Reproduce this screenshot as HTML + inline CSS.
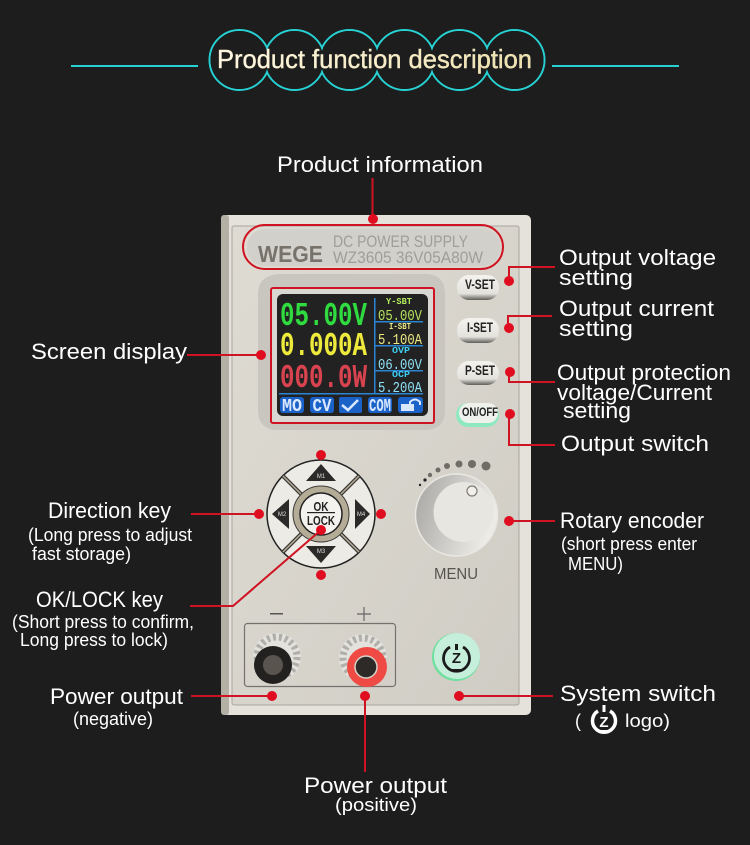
<!DOCTYPE html>
<html><head><meta charset="utf-8"><style>
html,body{margin:0;padding:0;background:#1d1d1d}
svg{display:block}
text{font-family:"Liberation Sans",sans-serif}
.l{fill:#fff;font-size:22.5px}
.s{fill:#fff;font-size:18px}
.m{font-family:"Liberation Mono",monospace;font-weight:bold}
.k{font-family:"Liberation Mono",monospace}
.b{fill:#222;font-size:14px;font-weight:bold;text-anchor:middle}
.r{fill:none;stroke:#cf1322;stroke-width:2}
.d{fill:#e00d20}
.t{fill:#d9e8ff;font-size:18px;font-weight:bold;font-family:"Liberation Mono",monospace;text-anchor:middle}
</style></head><body>
<svg width="750" height="845" viewBox="0 0 750 845" xmlns="http://www.w3.org/2000/svg">
<defs>
<linearGradient id="ti" x1="0" x2="1" y1="0" y2="0"><stop offset="0" stop-color="#fff8e8"/><stop offset="1" stop-color="#eee0a8"/></linearGradient>
<linearGradient id="pn" x1="0" x2="1" y1="0" y2="1"><stop offset="0" stop-color="#dedbd2"/><stop offset=".6" stop-color="#d6d3cb"/><stop offset="1" stop-color="#cfccc4"/></linearGradient>
<linearGradient id="btn" x1="0" x2="0" y1="0" y2="1"><stop offset="0" stop-color="#f4f3ef"/><stop offset=".75" stop-color="#e3e2dd"/><stop offset="1" stop-color="#5f5d58"/></linearGradient>
<linearGradient id="kb" x1="0" x2="1" y1="0" y2=".3"><stop offset="0" stop-color="#a5a4a0"/><stop offset=".5" stop-color="#c9c8c4"/><stop offset="1" stop-color="#ecebe6"/></linearGradient>
</defs>
<rect width="750" height="845" fill="#1d1d1d"/>

<!-- title -->
<g fill="none" stroke="#27d0d2" stroke-width="2">
<circle cx="239.500" cy="60" r="30"/><circle cx="294.500" cy="60" r="30"/><circle cx="349.500" cy="60" r="30"/><circle cx="404.500" cy="60" r="30"/><circle cx="459.500" cy="60" r="30"/><circle cx="514.500" cy="60" r="30"/>
</g>
<g fill="#1d1d1d">
<circle cx="239.500" cy="60" r="29"/><circle cx="294.500" cy="60" r="29"/><circle cx="349.500" cy="60" r="29"/><circle cx="404.500" cy="60" r="29"/><circle cx="459.500" cy="60" r="29"/><circle cx="514.500" cy="60" r="29"/>
</g>
<rect x="71" y="65" width="127" height="2" fill="#27d0d2"/>
<rect x="552" y="65" width="127" height="2" fill="#27d0d2"/>
<text x="217" y="68" font-size="26" fill="url(#ti)" textLength="315" lengthAdjust="spacingAndGlyphs" style="stroke:#f5ecc8;stroke-width:.4">Product function description</text>

<!-- panel -->
<rect x="221" y="215" width="310" height="500" rx="5" fill="#e4e2db"/>
<rect x="221" y="215" width="8" height="500" rx="3" fill="#b4b0a6"/>
<rect x="232" y="226" width="287" height="479" rx="2" fill="url(#pn)" stroke="#a9a69e"/>
<rect x="247" y="229" width="253" height="37" rx="18" fill="#d2d0ca"/>
<text x="258" y="262" font-size="23" font-weight="bold" fill="#77736a" textLength="65" lengthAdjust="spacingAndGlyphs">WEGE</text>
<text x="333" y="247" font-size="16.500" fill="#a09e98" textLength="135" lengthAdjust="spacingAndGlyphs">DC POWER SUPPLY</text>
<text x="333" y="263" font-size="16.500" fill="#a09e98" textLength="150" lengthAdjust="spacingAndGlyphs">WZ3605  36V05A80W</text>

<!-- screen -->
<path d="M278 274H428Q445 276 445 294V410Q445 430 425 430H278Q258 430 258 410V294Q258 276 278 274Z" fill="#c9c6bf"/>
<rect x="271" y="288" width="163" height="135" fill="#d9d7d1"/>
<rect x="277" y="294" width="151" height="122" rx="6" fill="#222"/>
<text x="280" y="325" class="m" font-size="33" fill="#2fdb3f" textLength="87" lengthAdjust="spacingAndGlyphs">05.00V</text>
<text x="280" y="355" class="m" font-size="33" fill="#eeea3c" textLength="87" lengthAdjust="spacingAndGlyphs">0.000A</text>
<text x="280" y="387" class="m" font-size="33" fill="#d9434f" textLength="87" lengthAdjust="spacingAndGlyphs">000.0W</text>
<g fill="#2a86d4">
<rect x="374" y="298" width="1.500" height="95"/>
<rect x="375" y="321" width="48" height="1.500"/>
<rect x="375" y="345" width="48" height="1.500"/>
<rect x="375" y="370" width="48" height="1.500"/>
<rect x="279" y="393" width="144" height="1.500"/>
</g>
<text x="386" y="304" class="m" font-size="9" fill="#b4ea5c" textLength="26" lengthAdjust="spacingAndGlyphs">Y-SBT</text>
<text x="389" y="329" class="m" font-size="9" fill="#ece983" textLength="22" lengthAdjust="spacingAndGlyphs">I-SBT</text>
<text x="392" y="353" class="m" font-size="9" fill="#3dcdf2" textLength="18" lengthAdjust="spacingAndGlyphs">OVP</text>
<text x="392" y="377" class="m" font-size="9" fill="#3dcdf2" textLength="18" lengthAdjust="spacingAndGlyphs">OCP</text>
<text x="378" y="320" class="k" font-size="15" fill="#b7e35e" textLength="44" lengthAdjust="spacingAndGlyphs">05.00V</text>
<text x="378" y="344" class="k" font-size="15" fill="#ece983" textLength="44" lengthAdjust="spacingAndGlyphs">5.100A</text>
<text x="378" y="369" class="k" font-size="15" fill="#8fe2f7" textLength="44" lengthAdjust="spacingAndGlyphs">06.00V</text>
<text x="378" y="392" class="k" font-size="15" fill="#8fe2f7" textLength="44" lengthAdjust="spacingAndGlyphs">5.200A</text>
<g fill="#1b62c8">
<rect x="280" y="397" width="24" height="16" rx="3"/>
<rect x="310" y="397" width="24" height="16" rx="3"/>
<rect x="339" y="397" width="23" height="16" rx="2"/>
<rect x="368" y="397" width="24" height="16" rx="3"/>
<rect x="398" y="397" width="25" height="16" rx="3"/>
</g>
<text x="292" y="411" class="t" textLength="20" lengthAdjust="spacingAndGlyphs">MO</text>
<text x="322" y="411" class="t" textLength="19" lengthAdjust="spacingAndGlyphs">CV</text>
<text x="380" y="411" class="t" textLength="22" lengthAdjust="spacingAndGlyphs">COM</text>
<path d="M342 405L348 410L358 400" fill="none" stroke="#d9e8ff" stroke-width="2.500"/>
<rect x="401" y="404" width="13" height="7" fill="#d9e8ff"/>
<path d="M410 404V402Q415 397 420 402V405" fill="none" stroke="#d9e8ff" stroke-width="2"/>

<!-- buttons -->
<rect x="457" y="275" width="42" height="25" rx="12" fill="url(#btn)"/>
<rect x="457" y="318" width="42" height="25" rx="12" fill="url(#btn)"/>
<rect x="457" y="361" width="42" height="24" rx="12" fill="url(#btn)"/>
<rect x="456" y="403" width="43" height="24" rx="12" fill="#8fe9c0"/>
<rect x="459" y="403" width="39" height="20" rx="10" fill="#eef1ec"/>
<text x="480" y="289" class="b" textLength="30" lengthAdjust="spacingAndGlyphs">V-SET</text>
<text x="480" y="332" class="b" textLength="26" lengthAdjust="spacingAndGlyphs">I-SET</text>
<text x="480" y="375" class="b" textLength="30" lengthAdjust="spacingAndGlyphs">P-SET</text>
<text x="480" y="416" class="b" textLength="36" lengthAdjust="spacingAndGlyphs" style="font-size:12px">ON/OFF</text>

<!-- d-pad -->
<circle cx="321" cy="514" r="54" fill="#ecebe6" stroke="#222" stroke-width="1.500"/>
<path d="M283 476L359 552M359 476L283 552" stroke="#3b3a36" stroke-width="4"/>
<path d="M283 476L359 552M359 476L283 552" stroke="#b5ac97" stroke-width="1.500"/>
<circle cx="321" cy="514" r="28" fill="#b5ac97" stroke="#3b3a36" stroke-width="1"/>
<circle cx="321" cy="514" r="21" fill="#f3f2ee" stroke="#222" stroke-width="1.500"/>
<text x="321" y="511" text-anchor="middle" font-size="13" font-weight="bold" fill="#222" textLength="15" lengthAdjust="spacingAndGlyphs">OK</text>
<rect x="307" y="512" width="28" height="1.200" fill="#222"/>
<text x="321" y="525" text-anchor="middle" font-size="13" font-weight="bold" fill="#222" textLength="28" lengthAdjust="spacingAndGlyphs">LOCK</text>
<g fill="#2b2a28">
<path d="M321 464L336 481H306Z"/><path d="M321 563L336 546H306Z"/>
<path d="M272 514L289 499V529Z"/><path d="M370 514L355 499V529Z"/>
</g>
<g fill="#ddd" font-size="6" text-anchor="middle">
<text x="321" y="478">M1</text><text x="321" y="553">M3</text><text x="282" y="516">M2</text><text x="361" y="516">M4</text>
</g>

<!-- knob -->
<g fill="#6f6d66">
<circle cx="486" cy="466" r="4.500"/><circle cx="472" cy="464" r="4"/><circle cx="459" cy="464" r="3.500"/><circle cx="447" cy="466" r="3"/><circle cx="438" cy="470" r="2.500"/><circle cx="430" cy="475" r="2.200"/><circle cx="425" cy="480" r="1.600" fill="#222"/><circle cx="420" cy="485" r="1.200" fill="#222"/>
</g>
<circle cx="456.500" cy="515" r="41" fill="url(#kb)" stroke="#e8e7e2" stroke-width="1.500"/>
<circle cx="463.500" cy="512" r="30" fill="#e8e6e1"/>
<circle cx="472" cy="491" r="5" fill="#f1efe9" stroke="#7f7c74" stroke-width="1.200"/>
<text x="434" y="579" font-size="16" fill="#55544f" textLength="44" lengthAdjust="spacingAndGlyphs">MENU</text>

<!-- terminals -->
<rect x="270" y="613" width="13" height="1.500" fill="#555"/>
<path d="M364 607V621M357 614H371" stroke="#666" stroke-width="1.200"/>
<rect x="244.500" y="623.500" width="151" height="63" rx="3" fill="none" stroke="#74726c" stroke-width="1.200"/>
<circle cx="277" cy="657" r="24" fill="#e3e2dd"/>
<circle cx="277" cy="657" r="20" fill="none" stroke="#b0afaa" stroke-width="7" stroke-dasharray="3 3"/>
<circle cx="273" cy="665" r="19" fill="#22211f"/>
<circle cx="273" cy="665" r="10" fill="#59554e"/>
<circle cx="363" cy="658" r="24" fill="#e3e2dd"/>
<circle cx="363" cy="658" r="20" fill="none" stroke="#b0afaa" stroke-width="7" stroke-dasharray="3 3"/>
<circle cx="367" cy="667" r="20" fill="#ef4a44"/>
<circle cx="366" cy="667" r="11" fill="#2d2a27" stroke="#d6d2c8" stroke-width="1.500"/>

<!-- power button -->
<circle cx="456" cy="657" r="24" fill="#6fdf9e"/>
<circle cx="457" cy="656" r="23" fill="#c6efdb"/>
<path d="M450 647A13 13 0 1 0 463 647" fill="none" stroke="#1b1b1b" stroke-width="2.800"/>
<rect x="455" y="644" width="3" height="6" fill="#1b1b1b"/>
<rect x="452" y="669" width="9" height="3" fill="#1b1b1b"/>
<text x="456.500" y="663" text-anchor="middle" font-size="15" font-weight="bold" fill="#1b1b1b">Z</text>

<!-- red annotations -->
<rect x="243" y="225" width="260" height="44" rx="22" class="r"/>
<rect x="271" y="288" width="163" height="135" rx="2" class="r"/>
<path class="r" d="M372.500 178V219M187 355H261M509 281V267H555M508 328V316H552M509 372V382H555M509 414V445H555M509 521H555M191 514H259M321 530L233 606H190M191 696H272M365 696V772M459 696H553"/>
<g class="d">
<circle cx="373" cy="219" r="5"/><circle cx="261" cy="355" r="5"/><circle cx="509" cy="281" r="5"/><circle cx="509" cy="328" r="5"/><circle cx="510" cy="372" r="5"/><circle cx="510" cy="414" r="5"/><circle cx="509" cy="521" r="5"/>
<circle cx="321" cy="455" r="5"/><circle cx="259" cy="514" r="5"/><circle cx="381" cy="514" r="5"/><circle cx="321" cy="575" r="5"/><circle cx="321" cy="530" r="5"/>
<circle cx="272" cy="696" r="5"/><circle cx="365" cy="696" r="5"/><circle cx="459" cy="696" r="5"/>
</g>

<!-- labels -->
<text class="l" x="277" y="172" textLength="206" lengthAdjust="spacingAndGlyphs">Product information</text>
<text class="l" x="559" y="265" textLength="157" lengthAdjust="spacingAndGlyphs">Output voltage</text>
<text class="l" x="559" y="285" textLength="74" lengthAdjust="spacingAndGlyphs">setting</text>
<text class="l" x="559" y="316" textLength="155" lengthAdjust="spacingAndGlyphs">Output current</text>
<text class="l" x="559" y="336" textLength="74" lengthAdjust="spacingAndGlyphs">setting</text>
<text class="l" x="557" y="380" textLength="174" lengthAdjust="spacingAndGlyphs">Output protection</text>
<text class="l" x="557" y="400" textLength="155" lengthAdjust="spacingAndGlyphs">voltage/Current</text>
<text class="l" x="563" y="418" textLength="68" lengthAdjust="spacingAndGlyphs">setting</text>
<text class="l" x="561" y="451" textLength="148" lengthAdjust="spacingAndGlyphs">Output switch</text>
<text class="l" x="560" y="528" textLength="144" lengthAdjust="spacingAndGlyphs">Rotary encoder</text>
<text class="s" x="561" y="550" textLength="136" lengthAdjust="spacingAndGlyphs">(short press enter</text>
<text class="s" x="568" y="570" textLength="55" lengthAdjust="spacingAndGlyphs">MENU)</text>
<text class="l" x="560" y="701" textLength="156" lengthAdjust="spacingAndGlyphs">System switch</text>
<text class="s" x="575" y="727">(</text>
<text class="s" x="625" y="727" textLength="45" lengthAdjust="spacingAndGlyphs">logo)</text>
<text class="l" x="304" y="793" textLength="143" lengthAdjust="spacingAndGlyphs">Power output</text>
<text class="s" x="335" y="811" textLength="82" lengthAdjust="spacingAndGlyphs">(positive)</text>
<text class="l" x="31" y="359" textLength="156" lengthAdjust="spacingAndGlyphs">Screen display</text>
<text class="l" x="48" y="518" textLength="123" lengthAdjust="spacingAndGlyphs">Direction key</text>
<text class="s" x="28" y="541" textLength="164" lengthAdjust="spacingAndGlyphs">(Long press to adjust</text>
<text class="s" x="32" y="560" textLength="99" lengthAdjust="spacingAndGlyphs">fast storage)</text>
<text class="l" x="36" y="607" textLength="127" lengthAdjust="spacingAndGlyphs">OK/LOCK key</text>
<text class="s" x="12" y="628" textLength="182" lengthAdjust="spacingAndGlyphs">(Short press to confirm,</text>
<text class="s" x="20" y="646" textLength="148" lengthAdjust="spacingAndGlyphs">Long press to lock)</text>
<text class="l" x="50" y="704" textLength="133" lengthAdjust="spacingAndGlyphs">Power output</text>
<text class="s" x="73" y="725" textLength="80" lengthAdjust="spacingAndGlyphs">(negative)</text>

<!-- small logo -->
<path d="M598 711A11.500 11.500 0 1 0 610 711" fill="none" stroke="#fff" stroke-width="3.500"/>
<rect x="602.500" y="705" width="3" height="7" fill="#fff"/>
<rect x="600" y="730" width="8" height="3" fill="#fff"/>
<text x="604" y="727" text-anchor="middle" font-size="15" font-weight="bold" fill="#fff">Z</text>
</svg>
</body></html>
